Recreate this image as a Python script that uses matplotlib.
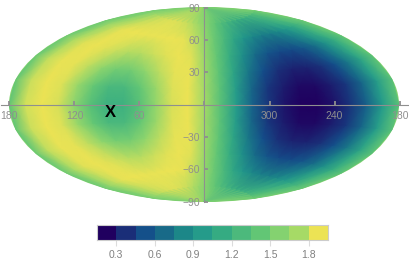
import numpy as np
import matplotlib
matplotlib.use("Agg")
import matplotlib.pyplot as plt
from matplotlib.colors import LinearSegmentedColormap, ListedColormap, BoundaryNorm

plt.rcParams["font.family"] = ["Liberation Sans", "DejaVu Sans"]

# map grid, left to right on the plot (labels run 180 120 60 0 300 240 180)
lons = list(range(-180, 181, 15))
lats = list(range(-90, 91, 15))
row_00 = [1.45, 1.88, 1.95, 1.90, 1.66, 1.38, 1.19, 1.19, 1.38, 1.68, 1.90, 1.95, 1.78,
          1.40, 0.97, 0.58, 0.34, 0.22, 0.14, 0.14, 0.22, 0.34, 0.58, 0.97, 1.40]
row_15 = [1.46, 1.87, 1.95, 1.91, 1.72, 1.47, 1.28, 1.28, 1.47, 1.73, 1.91, 1.95, 1.77,
          1.41, 0.99, 0.62, 0.36, 0.25, 0.18, 0.18, 0.25, 0.36, 0.62, 0.99, 1.41]
row_30 = [1.48, 1.85, 1.94, 1.93, 1.84, 1.67, 1.54, 1.54, 1.67, 1.84, 1.93, 1.94, 1.76,
          1.43, 1.06, 0.72, 0.48, 0.33, 0.27, 0.27, 0.33, 0.48, 0.72, 1.06, 1.43]
row_45 = [1.50, 1.80, 1.92, 1.95, 1.92, 1.87, 1.82, 1.82, 1.87, 1.92, 1.95, 1.92, 1.73,
          1.46, 1.15, 0.88, 0.66, 0.52, 0.45, 0.45, 0.52, 0.66, 0.88, 1.15, 1.46]
row_60 = [1.52, 1.72, 1.85, 1.93, 1.95, 1.95, 1.94, 1.94, 1.95, 1.95, 1.93, 1.85, 1.70,
          1.50, 1.29, 1.09, 0.94, 0.82, 0.76, 0.76, 0.82, 0.94, 1.09, 1.29, 1.50]
row_75 = [1.55, 1.65, 1.74, 1.81, 1.86, 1.89, 1.91, 1.91, 1.89, 1.86, 1.81, 1.74, 1.65,
          1.55, 1.45, 1.35, 1.27, 1.21, 1.18, 1.18, 1.21, 1.27, 1.35, 1.45, 1.55]
row_90 = [1.62] * 25
values = [row_90, row_75, row_60, row_45, row_30, row_15, row_00,
          row_15, row_30, row_45, row_60, row_75, row_90]

lon_ticks = [-180, -120, -60, 0, 60, 120, 180]
lon_labels = ["180", "120", "60", "", "300", "240", "180"]
lat_ticks = [-90, -60, -30, 30, 60, 90]
lat_labels = ["\u221290", "\u221260", "\u221230", "30", "60", "90"]
bar_edges = np.arange(0.15, 1.96, 0.15)
bar_ticks = [0.3, 0.6, 0.9, 1.2, 1.5, 1.8]
colors = ["#20005f", "#1a2e78", "#14508a", "#186a88", "#1c8788", "#259b8a",
          "#35ab82", "#4cb97c", "#62c675", "#84d270", "#a6da66", "#ece354"]

W, H = 410, 268
GRAY = "#8f8f8f"


def box(x0, y0, x1, y1):
    # pixel box, y from the top
    return [x0 / W, 1 - y1 / H, (x1 - x0) / W, (y1 - y0) / H]


fig = plt.figure(figsize=(W / 100, H / 100), dpi=100)

ax = fig.add_axes(box(9, 7, 399, 202), projection="aitoff")
ax.set_facecolor("#84d270")
cmap = LinearSegmentedColormap.from_list("field", colors)
ax.pcolormesh(np.radians(lons), np.radians(lats), np.array(values), cmap=cmap,
              vmin=0.15, vmax=1.95, shading="gouraud", rasterized=True)
ax.grid(False)
ax.set_xticklabels([])
ax.set_yticklabels([])
for s in ax.spines.values():
    s.set_visible(False)

# axis cross drawn on a plain linear overlay, reaching a bit past the ellipse
ov = fig.add_axes(box(1, 7.5, 408, 201.5), facecolor="none")
ov.set_xlim(-187.8, 187.8)
ov.set_ylim(-90, 90)
ov.spines[["top", "right"]].set_visible(False)
ov.spines["left"].set_position(("data", 0))
ov.spines["bottom"].set_position(("data", 0))
for k in ("left", "bottom"):
    ov.spines[k].set_color(GRAY)
    ov.spines[k].set_linewidth(0.8)
ov.set_xticks(lon_ticks, lon_labels)
ov.set_yticks(lat_ticks, lat_labels)
ov.tick_params(axis="both", direction="in", length=3, width=1.3, color=GRAY,
               labelcolor=GRAY, labelsize=7.5, pad=5)
ov.tick_params(axis="y", pad=3)
ov.text(-87, -7, "X", fontsize=12, fontweight="bold", color="black",
        ha="center", va="center")

cax = fig.add_axes(box(97, 225, 328, 240))
cax.pcolormesh(bar_edges, [0, 1], np.arange(12).reshape(1, -1),
               cmap=ListedColormap(colors), norm=BoundaryNorm(np.arange(-0.5, 12), 12))
cax.set_yticks([])
cax.set_xticks(bar_ticks, ["0.3", "0.6", "0.9", "1.2", "1.5", "1.8"])
cax.tick_params(axis="x", length=4, width=0.8, color="#dcdcdc", labelcolor="#808080",
                labelsize=7.5, pad=3)
for s in cax.spines.values():
    s.set_color("#cccccc")
    s.set_linewidth(0.8)

fig.savefig("out.png", dpi=100)
